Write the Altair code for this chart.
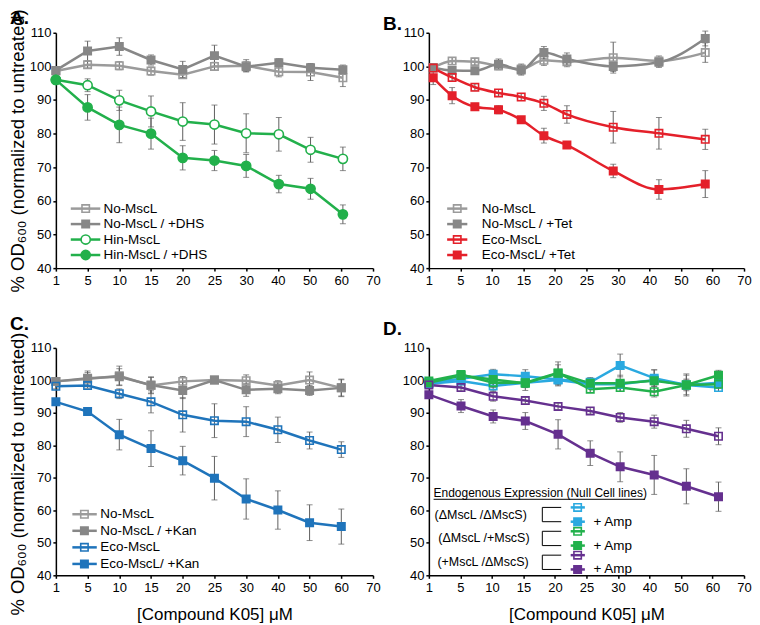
import altair as alt
import numpy as np
import pandas as pd

FONT = "Liberation Sans"
TICK_VALUES = [1, 5, 10, 15, 20, 25, 30, 40, 50, 60, 70]
TICK_LABELS = [str(t) for t in TICK_VALUES]
Y_TITLE = "% OD\u2086\u2080\u2080 (normalized to untreated)"
X_TITLE = "[Compound K05] \u03bcM"

# ---------------- Panel A ----------------
A_CONC = [1, 5, 10, 15, 20, 25, 30, 40.3, 50.3, 60.5]
A_NO = [98.6, 100.5, 100.2, 98.6, 97.5, 100.0, 100.2, 98.4, 98.3, 96.6]
A_NO_ERR = [0.8, 1.0, 1.2, 1.2, 1.0, 1.2, 1.8, 1.5, 2.5, 2.6]
A_NO_DHS = [98.8, 104.6, 105.9, 101.9, 99.1, 103.2, 99.9, 101.1, 99.6, 99.0]
A_NO_DHS_ERR = [0.8, 2.9, 2.6, 1.5, 2.4, 3.1, 1.5, 1.2, 1.2, 1.4]
A_HIN = [96.0, 94.4, 89.9, 86.6, 83.6, 82.7, 80.1, 79.8, 75.2, 72.5]
A_HIN_ERR = [0.8, 1.9, 3.0, 4.6, 5.6, 5.8, 5.8, 5.0, 3.7, 3.5]
A_HIN_DHS = [96.0, 87.8, 82.6, 80.0, 72.8, 72.0, 70.4, 65.0, 63.6, 56.0]
A_HIN_DHS_ERR = [0.8, 3.8, 5.3, 4.6, 3.6, 3.0, 3.4, 2.6, 3.1, 2.8]
A_LABELS = ["No-MscL", "No-MscL / +DHS", "Hin-MscL", "Hin-MscL / +DHS"]

# ---------------- Panel B ----------------
B_CONC = [1.55, 3.95, 7.3, 11.05, 14.65, 18.25, 21.9, 29.25, 43.0, 57.7]
B_NO = [99.6, 101.6, 101.4, 100.1, 99.2, 101.8, 101.4, 102.6, 101.6, 104.1]
B_NO_ERR = [1.0, 1.0, 1.0, 1.0, 1.5, 1.5, 1.5, 4.6, 1.5, 2.9]
B_NO_TET = [99.6, 98.8, 98.7, 100.6, 98.9, 104.1, 102.2, 100.0, 101.2, 108.3]
B_NO_TET_ERR = [1.0, 1.0, 1.0, 1.6, 1.5, 1.8, 1.8, 1.5, 1.5, 2.2]
B_ECO = [99.5, 96.7, 93.8, 92.1, 90.9, 89.0, 85.7, 81.9, 80.1, 78.3]
B_ECO_ERR = [1.0, 1.0, 1.0, 1.0, 1.0, 2.1, 2.6, 4.7, 4.7, 3.0]
B_ECO_TET = [96.6, 91.3, 88.0, 87.1, 84.1, 79.4, 76.6, 68.9, 63.4, 65.0]
B_ECO_TET_ERR = [2.0, 2.4, 1.0, 1.2, 1.0, 2.2, 1.0, 2.0, 2.9, 4.0]
B_LABELS = ["No-MscL", "No-MscL / +Tet", "Eco-MscL", "Eco-MscL/ +Tet"]

# ---------------- Panel C ----------------
C_CONC = [1, 5, 10, 15, 20, 25, 30, 40, 50, 60]
C_NO = [99.7, 100.4, 101.4, 98.4, 99.7, 100.1, 99.9, 98.4, 100.1, 97.7]
C_NO_ERR = [0.8, 2.0, 3.0, 2.5, 1.5, 0.8, 1.8, 1.5, 2.5, 2.5]
C_NO_KAN = [99.7, 100.7, 101.1, 98.6, 96.9, 100.1, 97.1, 97.4, 96.9, 97.7]
C_NO_KAN_ERR = [0.8, 2.2, 2.5, 2.5, 2.5, 0.8, 2.0, 1.5, 1.5, 2.7]
C_ECO = [98.2, 98.4, 95.9, 93.4, 89.4, 87.6, 87.3, 84.8, 81.5, 78.7]
C_ECO_ERR = [0.8, 0.8, 1.5, 3.4, 5.3, 5.2, 4.6, 3.9, 2.6, 2.4]
C_ECO_KAN = [93.4, 90.4, 83.3, 79.0, 75.3, 69.9, 63.5, 60.1, 56.2, 55.0]
C_ECO_KAN_ERR = [0.8, 0.8, 4.7, 5.5, 4.4, 6.7, 6.2, 5.9, 5.5, 5.4]
C_LABELS = ["No-MscL", "No-MscL / +Kan", "Eco-MscL", "Eco-MscL/ +Kan"]

# ---------------- Panel D ----------------
D_CONC = [1, 5.1, 10.2, 15.3, 20.5, 25.6, 30.7, 41.5, 51.7, 61.9]
D_LS = [99.0, 99.8, 98.3, 99.3, 100.1, 98.8, 98.8, 100.1, 98.6, 97.8]
D_LS_ERR = [0.8, 1.2, 1.5, 1.5, 1.5, 1.0, 1.2, 1.5, 1.5, 1.2]
D_LS_AMP = [99.3, 100.5, 101.9, 101.3, 100.3, 99.4, 104.6, 100.7, 98.6, 99.3]
D_LS_AMP_ERR = [1.0, 1.2, 1.5, 2.0, 2.0, 1.5, 3.5, 2.5, 3.0, 1.5]
D_LPS = [99.8, 101.8, 99.3, 99.3, 102.3, 97.3, 97.8, 96.5, 98.6, 98.8]
D_LPS_ERR = [0.8, 1.2, 1.5, 1.5, 2.5, 1.0, 1.2, 1.6, 1.8, 1.2]
D_LPS_AMP = [99.3, 101.5, 100.3, 99.1, 102.2, 99.1, 99.1, 99.9, 98.6, 101.6]
D_LPS_AMP_ERR = [0.8, 1.5, 2.0, 2.2, 3.5, 1.5, 2.5, 3.4, 3.4, 1.5]
D_PS = [98.6, 97.8, 95.1, 93.8, 92.0, 90.6, 88.6, 87.3, 85.1, 82.8]
D_PS_ERR = [0.5, 1.0, 1.5, 1.0, 1.0, 1.0, 1.5, 2.0, 2.6, 2.6]
D_PS_AMP = [95.6, 92.1, 88.9, 87.5, 83.4, 77.6, 73.4, 70.9, 67.4, 64.2]
D_PS_AMP_ERR = [1.0, 2.0, 2.0, 2.6, 4.5, 3.8, 4.6, 6.0, 5.4, 4.5]
D_GROUPS = ["(\u0394MscL /\u0394MscS)", "(\u0394MscL /+MscS)", "(+MscL /\u0394MscS)"]
D_LABELS = ["", "+ Amp", "", "+ Amp", "", "+ Amp"]
D_LEGEND_TITLE = "Endogenous Expression (Null Cell lines)"

GREY_OPEN = "#9b9b9b"
GREY = "#878787"
GREEN = "#22b04b"
RED = "#e4202a"
BLUE = "#1f74bb"
CYAN = "#2aa9e0"
GREEN_D = "#22b14c"
PURPLE = "#65308f"
ERR = "#5e5e5e"


def x_axis(title):
    return alt.Axis(values=list(range(len(TICK_LABELS))),
                    labelExpr="[" + ",".join("'%s'" % t for t in TICK_LABELS) + "][datum.value]",
                    grid=False, domainColor="black", domainWidth=1.5, tickColor="black",
                    tickWidth=1.5, tickSize=3, labelFont=FONT, labelFontSize=13, labelColor="black",
                    labelPadding=3, labelOverlap=False, labelFlush=False,
                    title=title, titleFont=FONT, titleFontSize=17, titleFontWeight="normal",
                    titleColor="black", titlePadding=12)


def y_axis(title, title_y):
    kw = dict(values=list(range(40, 111, 10)), grid=False, domainColor="black",
              domainWidth=1.5, tickColor="black", tickWidth=1.5, tickSize=3,
              labelFont=FONT, labelFontSize=13, labelColor="black", labelPadding=2,
              labelOverlap=False, labelFlush=False,
              title=title, titleFont=FONT, titleFontSize=18.5, titleFontWeight="normal",
              titleColor="black", titlePadding=2)
    if title_y is not None:
        kw["titleY"] = title_y
    return alt.Axis(**kw)


def build_panel(letter, title_offset, series, interp, width, height, y_title, x_title,
                legend_rows, legend_x, text_size, extra=None, title_shift=None):
    XS = alt.Scale(domain=[0, len(TICK_VALUES) - 1], nice=False, zero=False)
    YS = alt.Scale(domain=[40, 110], nice=False, zero=False)
    title_y = None if title_shift is None else height / 2 + title_shift

    def X(f):
        return alt.X(f + ":Q", scale=XS, axis=x_axis(x_title))

    def X2(f):
        return alt.X2(f)

    def Y(f):
        return alt.Y(f + ":Q", scale=YS, axis=y_axis(y_title, title_y))

    def fill_of(s):
        if s["filled"]:
            return s["color"]
        return "white" if s["shape"] == "circle" else "transparent"

    rows = []
    for s in series:
        pos = np.interp(s["conc"], TICK_VALUES, list(range(len(TICK_VALUES))))
        for p, v, e in zip(pos, s["val"], s["err"]):
            rows.append(dict(series=s["name"], pos=float(p), val=v, lo=v - e, hi=v + e,
                             shape=s["shape"], col=s["color"], fcol=fill_of(s)))
    df = pd.DataFrame(rows)

    col = alt.Color("col:N", scale=None, legend=None)
    stk = alt.Stroke("col:N", scale=None, legend=None)
    fil = alt.Fill("fcol:N", scale=None, legend=None)

    layers = []
    layers.append(alt.Chart(df).mark_rule(color=ERR, strokeWidth=1).encode(
        x=X("pos"), y=Y("lo"), y2=alt.Y2("hi")))
    for fld in ["lo", "hi"]:
        layers.append(alt.Chart(df).mark_tick(color=ERR, thickness=1, size=6,
                                              orient="horizontal").encode(x=X("pos"), y=Y(fld)))
    layers.append(alt.Chart(df).mark_line(strokeWidth=2.5, interpolate=interp).encode(
        x=X("pos"), y=Y("val"), color=col, detail="series:N"))

    # legend table (positions in data coordinates)
    lx0, lx1, lxm, lxt = legend_x
    leg = pd.DataFrame([dict(series=s["name"], label=lab, y=yy, x0=lx0, x1=lx1, xm=lxm, xt=lxt,
                             shape=s["shape"], col=s["color"], fcol=fill_of(s))
                        for s, (lab, yy) in zip(series, legend_rows)])
    layers.append(alt.Chart(leg).mark_rule(strokeWidth=2.5).encode(
        x=X("x0"), x2=X2("x1"), y=Y("y"), color=col))

    for shp in ["square", "circle"]:
        sub = df[df["shape"] == shp]
        lsub = leg[leg["shape"] == shp]
        if len(sub) == 0:
            continue
        size = 55 if shp == "square" else 85
        layers.append(alt.Chart(sub).mark_point(shape=shp, size=size, strokeWidth=1.6, opacity=1,
                                                fillOpacity=1).encode(
            x=X("pos"), y=Y("val"), stroke=stk, fill=fil))
        layers.append(alt.Chart(lsub).mark_point(shape=shp, size=size, strokeWidth=1.6, opacity=1,
                                                 fillOpacity=1).encode(
            x=X("xm"), y=Y("y"), stroke=stk, fill=fil))
    layers.append(alt.Chart(leg).mark_text(align="left", baseline="middle", font=FONT,
                                           fontSize=text_size, color="black").encode(
        x=X("xt"), y=Y("y"), text="label:N"))
    if extra is not None:
        layers.extend(extra(X, X2, Y))

    return alt.layer(*layers).properties(
        width=width, height=height,
        title=alt.TitleParams(text=letter, anchor="start", frame="group", dx=-46,
                              offset=title_offset, font=FONT, fontSize=19, fontWeight="bold",
                              color="black"))


def sd(name, conc, val, err, color, filled, shape="square"):
    return dict(name=name, conc=conc, val=val, err=err, color=color, filled=filled, shape=shape)


def rows_from(start, step, labels):
    return [(lab, start - i * step) for i, lab in enumerate(labels)]


W_L, W_R, H_T, H_B = 318, 316, 236, 228

panel_a = build_panel(
    "A.", -19,
    [sd("a1", A_CONC, A_NO, A_NO_ERR, GREY_OPEN, False),
     sd("a2", A_CONC, A_NO_DHS, A_NO_DHS_ERR, GREY, True),
     sd("a3", A_CONC, A_HIN, A_HIN_ERR, GREEN, False, "circle"),
     sd("a4", A_CONC, A_HIN_DHS, A_HIN_DHS_ERR, GREEN, True, "circle")],
    "linear", W_L, H_T, Y_TITLE, None,
    rows_from(57.7, 4.6, A_LABELS), (0.47, 1.40, 0.94, 1.5), 13.5)

panel_b = build_panel(
    "B.", -7,
    [sd("b1", B_CONC, B_NO, B_NO_ERR, GREY_OPEN, False),
     sd("b2", B_CONC, B_NO_TET, B_NO_TET_ERR, GREY, True),
     sd("b3", B_CONC, B_ECO, B_ECO_ERR, RED, False),
     sd("b4", B_CONC, B_ECO_TET, B_ECO_TET_ERR, RED, True)],
    "monotone", W_R, H_T, None, None,
    rows_from(57.7, 4.6, B_LABELS), (0.58, 1.22, 0.90, 1.68), 13.5)

panel_c = build_panel(
    "C.", -2,
    [sd("c1", C_CONC, C_NO, C_NO_ERR, GREY_OPEN, False),
     sd("c2", C_CONC, C_NO_KAN, C_NO_KAN_ERR, GREY, True),
     sd("c3", C_CONC, C_ECO, C_ECO_ERR, BLUE, False),
     sd("c4", C_CONC, C_ECO_KAN, C_ECO_KAN_ERR, BLUE, True)],
    "linear", W_L, H_B, Y_TITLE, X_TITLE,
    rows_from(58.8, 5.1, C_LABELS), (0.52, 1.29, 0.90, 1.40), 13.5, title_shift=12)

# D legend geometry (data coordinates)
D_CENTERS = [58.7 - 7.35 * g for g in range(3)]
D_ROWS = []
for c in D_CENTERS:
    D_ROWS.append(c + 2.2)
    D_ROWS.append(c - 2.2)


def d_extra(X, X2, Y):
    grp = pd.DataFrame(dict(label=D_GROUPS, y=D_CENTERS, x=[0.18, 0.3, 0.27]))
    vert = pd.DataFrame(dict(x=[3.6] * 3, y=[c + 2.2 for c in D_CENTERS],
                             y2=[c - 2.2 for c in D_CENTERS]))
    hor = pd.DataFrame(dict(x=[3.6] * 6, x2=[4.2] * 6, y=D_ROWS))
    ttl = pd.DataFrame(dict(label=[D_LEGEND_TITLE], x=[0.15], y=[65.3]))
    und = pd.DataFrame(dict(x=[0.15], x2=[6.86], y=[63.4]))
    return [
        alt.Chart(grp).mark_text(align="left", baseline="middle", font=FONT, fontSize=12.5,
                                 color="black").encode(x=X("x"), y=Y("y"), text="label:N"),
        alt.Chart(vert).mark_rule(color="black", strokeWidth=1).encode(
            x=X("x"), y=Y("y"), y2=alt.Y2("y2")),
        alt.Chart(hor).mark_rule(color="black", strokeWidth=1).encode(
            x=X("x"), x2=X2("x2"), y=Y("y")),
        alt.Chart(ttl).mark_text(align="left", baseline="middle", font=FONT, fontSize=12,
                                 color="black").encode(x=X("x"), y=Y("y"), text="label:N"),
        alt.Chart(und).mark_rule(color="black", strokeWidth=1).encode(
            x=X("x"), x2=X2("x2"), y=Y("y")),
    ]


panel_d = build_panel(
    "D.", 3,
    [sd("d1", D_CONC, D_LS, D_LS_ERR, CYAN, False),
     sd("d2", D_CONC, D_LS_AMP, D_LS_AMP_ERR, CYAN, True),
     sd("d3", D_CONC, D_LPS, D_LPS_ERR, GREEN_D, False),
     sd("d4", D_CONC, D_LPS_AMP, D_LPS_AMP_ERR, GREEN_D, True),
     sd("d5", D_CONC, D_PS, D_PS_ERR, PURPLE, False),
     sd("d6", D_CONC, D_PS_AMP, D_PS_AMP_ERR, PURPLE, True)],
    "linear", W_R, H_B, None, X_TITLE,
    list(zip(D_LABELS, D_ROWS)), (4.5, 4.95, 4.72, 5.22), 13.5, extra=d_extra)

chart = alt.vconcat(
    alt.hconcat(panel_a, panel_b, spacing=2),
    alt.hconcat(panel_c, panel_d, spacing=2),
    spacing=23,
    padding=0,
).configure_view(stroke=None)

chart.save("out.html", embed_options={"renderer": "svg", "actions": False})
